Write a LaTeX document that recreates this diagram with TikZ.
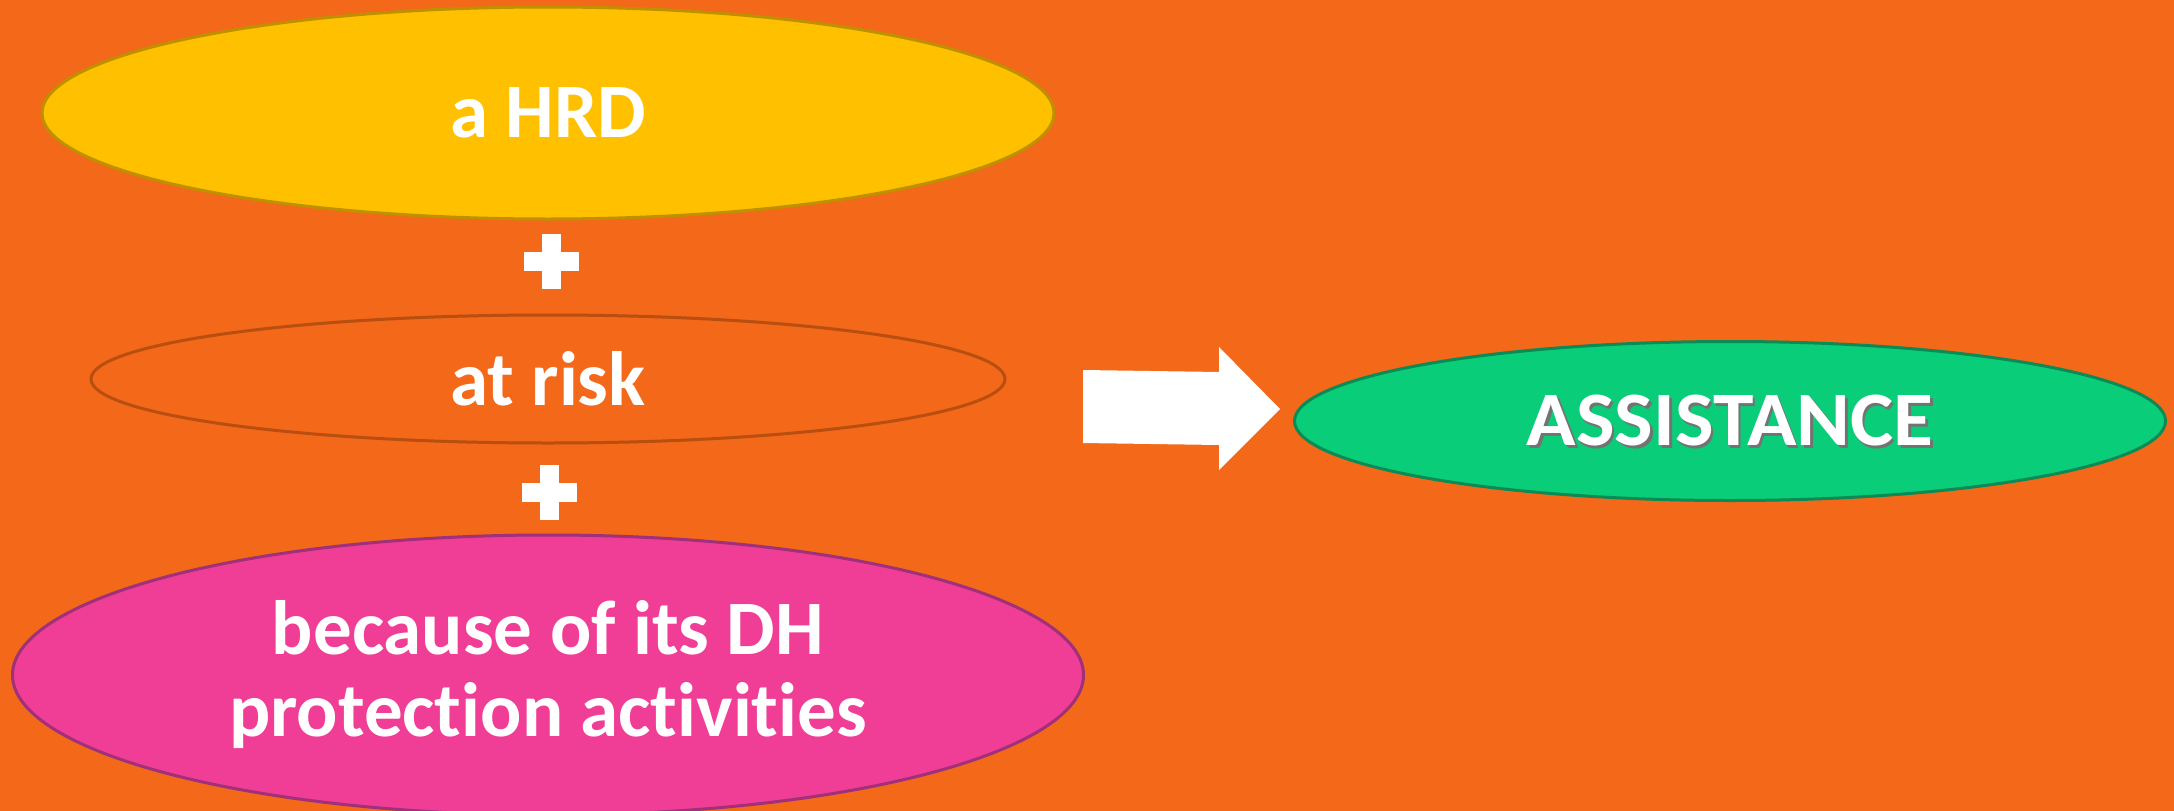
\documentclass[tikz,border=0pt]{standalone}
\usepackage{fontspec}
\setmainfont[RawFeature={-liga;-clig;-dlig}]{Carlito}
\usetikzlibrary{shapes.geometric}
\definecolor{bgorange}{RGB}{244,104,26}
\definecolor{hrdfill}{RGB}{255,192,0}
\definecolor{hrdline}{RGB}{191,144,0}
\definecolor{riskline}{RGB}{184,78,16}
\definecolor{pinkfill}{RGB}{240,62,150}
\definecolor{pinkline}{RGB}{160,48,122}
\definecolor{greenfill}{RGB}{10,205,122}
\definecolor{greenline}{RGB}{10,138,85}
\tikzset{
  blob/.style={ellipse, inner sep=0pt, line width=3pt, text=white, align=center,
    font=\fontsize{77}{82}\selectfont\bfseries},
  plussign/.style={fill=white, draw=none},
  blockarrow/.style={fill=white, draw=none}
}
\begin{document}
\begin{tikzpicture}[x=1pt,y=-1pt]
\fill[bgorange] (0,0) rectangle (2174,811);
\useasboundingbox (0,0) rectangle (2174,811);
\node[blob, fill=hrdfill, draw=hrdline, minimum width=1012pt, minimum height=212pt] (hrd) at (548,113) {a HRD};
\node[blob, draw=riskline, minimum width=914pt, minimum height=128pt] (risk) at (548,379) {at risk};
\node[blob, fill=pinkfill, draw=pinkline, minimum width=1071pt, minimum height=280pt] (act) at (548,675) {because of its DH\\protection activities};
\node[blob, fill=greenfill, draw=greenline, minimum width=871pt, minimum height=159pt] (assist) at (1730,421) {};
\node[text=black!55, font=\fontsize{77}{82}\selectfont\bfseries, xscale=1.06] (assistshadow) at ([xshift=2.5pt,yshift=-2.5pt]assist.center) {ASSISTANCE};
\node[text=white, font=\fontsize{77}{82}\selectfont\bfseries, xscale=1.06] (assisttext) at (assist.center) {ASSISTANCE};
% plus signs
\coordinate (p1) at (551,261);
\coordinate (p2) at (549,492);
\foreach \p in {p1,p2}{
  \fill[plussign] ([xshift=-27.5pt,yshift=9.5pt]\p) rectangle ([xshift=27.5pt,yshift=-9.5pt]\p);
  \fill[plussign] ([xshift=-9.5pt,yshift=27.5pt]\p) rectangle ([xshift=9.5pt,yshift=-27.5pt]\p);
}
% block arrow
\coordinate (atip) at (1280,409);
\fill[blockarrow] (1083,370) -- (1219,372) -- (1219,347) -- (atip) -- (1219,470) -- (1219,445) -- (1083,443) -- cycle;
\end{tikzpicture}
\end{document}
